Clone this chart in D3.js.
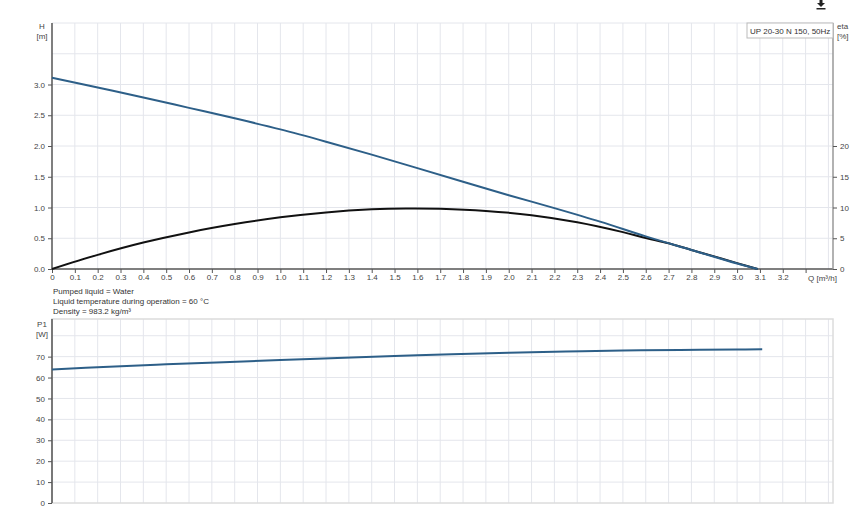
<!DOCTYPE html>
<html>
<head>
<meta charset="utf-8">
<script src="https://cdn.jsdelivr.net/npm/d3@7"></script>
<style>
  body { margin: 0; background: #fff; }
  svg { display: block; font-family: "Liberation Sans", Arial, sans-serif; }
</style>
</head>
<body>
<svg id="chart" width="855" height="528"></svg>
<script>
// Data
const qTicks = d3.range(0, 33).map(i => i / 10);
const hTicks = [0, 0.5, 1.0, 1.5, 2.0, 2.5, 3.0];
const etaTicks = [0, 5, 10, 15, 20];
const pTicks = [0, 10, 20, 30, 40, 50, 60, 70];

const qHead = [0, 0.2, 0.4, 0.6, 0.8, 1.0, 1.2, 1.4, 1.6, 1.8, 2.0, 2.2, 2.4, 2.6, 2.8, 3.0, 3.09];
const head = [3.11, 2.95, 2.79, 2.62, 2.45, 2.27, 2.07, 1.86, 1.64, 1.42, 1.20, 0.99, 0.77, 0.53, 0.31, 0.09, 0];

const qEta = [0, 0.2, 0.4, 0.6, 0.8, 1.0, 1.2, 1.4, 1.55, 1.7, 1.9, 2.1, 2.3, 2.5, 2.6, 2.7, 2.8, 2.9, 3.0, 3.09];
const eta = [0, 2.3, 4.3, 5.95, 7.3, 8.4, 9.2, 9.7, 9.85, 9.8, 9.45, 8.75, 7.6, 6.0, 5.05, 4.2, 3.1, 2.05, 0.95, 0];

const qPower = [0, 0.25, 0.5, 0.75, 1.0, 1.25, 1.5, 1.75, 2.0, 2.25, 2.5, 2.75, 3.0, 3.11];
const power = [63.8, 65.2, 66.3, 67.3, 68.4, 69.3, 70.3, 71.2, 71.9, 72.5, 72.9, 73.2, 73.4, 73.5];

const infoLines = [
  "Pumped liquid = Water",
  "Liquid temperature during operation = 60 °C",
  "Density = 983.2 kg/m³"
];
const legendText = "UP 20-30 N 150, 50Hz";

// Layout
const svg = d3.select("#chart");
const left = 52, right = 833;
const top1 = 23, bottom1 = 269;
const top2 = 319, bottom2 = 503;

const gridColor = "#e4e6ec";
const axisColor = "#555";
const textColor = "#444";
const blue = "#2d5f88";

// Scales
const x = d3.scaleLinear().domain([0, 3.42]).range([left, right]);
const yH = d3.scaleLinear().domain([0, 4]).range([bottom1, top1]);
const yEta = d3.scaleLinear().domain([0, 40]).range([bottom1, top1]);
const yP = d3.scaleLinear().domain([0, 88]).range([bottom2, top2]);

// Top chart grid
const g1 = svg.append("g");
g1.selectAll(".vg").data(qTicks.slice(1).concat([3.3, 3.4])).join("line")
  .attr("x1", d => x(d)).attr("x2", d => x(d))
  .attr("y1", top1).attr("y2", bottom1)
  .attr("stroke", gridColor).attr("stroke-width", 1);
g1.selectAll(".hg").data(d3.range(0.5, 4.01, 0.5)).join("line")
  .attr("x1", left).attr("x2", right)
  .attr("y1", d => yH(d)).attr("y2", d => yH(d))
  .attr("stroke", gridColor).attr("stroke-width", 1);

// Top chart axes
const xAxis = d3.axisBottom(x).tickValues(qTicks.concat([3.3]))
  .tickSize(4).tickFormat(d => d === 3.3 ? "" : (d === 0 ? "0" : d3.format(".1f")(d)));
const xa = svg.append("g").attr("transform", `translate(0,${bottom1})`).call(xAxis);
const hAxis = d3.axisLeft(yH).tickValues(hTicks).tickSize(4).tickFormat(d3.format(".1f"));
const ha = svg.append("g").attr("transform", `translate(${left},0)`).call(hAxis);
const etaAxis = d3.axisRight(yEta).tickValues(etaTicks).tickSize(4);
const ea = svg.append("g").attr("transform", `translate(${right},0)`).call(etaAxis);

// Bottom chart grid
const g2 = svg.append("g");
g2.selectAll(".vg").data(qTicks.slice(1).concat([3.3, 3.4])).join("line")
  .attr("x1", d => x(d)).attr("x2", d => x(d))
  .attr("y1", top2).attr("y2", bottom2)
  .attr("stroke", gridColor).attr("stroke-width", 1);
g2.selectAll(".hg").data(d3.range(10, 81, 10)).join("line")
  .attr("x1", left).attr("x2", right)
  .attr("y1", d => yP(d)).attr("y2", d => yP(d))
  .attr("stroke", gridColor).attr("stroke-width", 1);
g2.append("rect")
  .attr("x", left).attr("y", top2)
  .attr("width", right - left).attr("height", bottom2 - top2)
  .attr("fill", "none").attr("stroke", "#dcdcdc").attr("stroke-width", 1.5);

const pAxis = d3.axisLeft(yP).tickValues(pTicks).tickSize(4);
const pa = svg.append("g").attr("transform", `translate(${left},0)`).call(pAxis);

// Axis styling
[xa, ha, ea, pa].forEach(a => {
  a.selectAll(".domain").attr("stroke", axisColor).attr("stroke-width", 1.5);
  a.selectAll(".tick line").attr("stroke", axisColor);
  a.selectAll(".tick text").attr("fill", textColor).attr("font-size", 8)
    .attr("font-family", "Liberation Sans, Arial, sans-serif");
});
xa.selectAll(".tick text").attr("dy", "0.5em");
ea.select(".domain").attr("stroke", "#999").attr("d", `M0,${top1}V${bottom1}`);
ha.select(".domain").attr("d", `M0,${top1}V${bottom1}`);
pa.select(".domain").attr("d", `M0,${top2}V${bottom2}`);
xa.select(".domain").attr("d", `M${left},0H${right}`);

// Axis titles
const label = (tx, ty, t, anchor) => svg.append("text")
  .attr("x", tx).attr("y", ty).attr("text-anchor", anchor || "middle")
  .attr("font-size", 8).attr("fill", textColor).text(t);
label(42, 29, "H");
label(42, 39, "[m]");
label(837, 29, "eta", "start");
label(837, 39, "[%]", "start");
label(808, 281, "Q [m³/h]", "start");
label(42, 327, "P1");
label(42, 337, "[W]");

// Info lines
svg.selectAll(".info").data(infoLines).join("text")
  .attr("x", 53).attr("y", (d, i) => 294 + i * 10)
  .attr("font-size", 8).attr("fill", "#333").text(d => d);

// Legend box
svg.append("rect").attr("x", 747).attr("y", top1).attr("width", right - 747).attr("height", 15)
  .attr("fill", "#fff").attr("stroke", "#bbb").attr("stroke-width", 1);
svg.append("text").attr("x", 750).attr("y", 34).attr("font-size", 8).attr("fill", "#333").text(legendText);

// Curves
const lineH = d3.line().x(d => x(d[0])).y(d => yH(d[1])).curve(d3.curveCatmullRom);
const lineEta = d3.line().x(d => x(d[0])).y(d => yEta(d[1])).curve(d3.curveCatmullRom);
const lineP = d3.line().x(d => x(d[0])).y(d => yP(d[1])).curve(d3.curveCatmullRom);

svg.append("path").datum(d3.zip(qEta, eta)).attr("d", lineEta)
  .attr("fill", "none").attr("stroke", "#111").attr("stroke-width", 2);
svg.append("path").datum(d3.zip(qHead, head)).attr("d", lineH)
  .attr("fill", "none").attr("stroke", blue).attr("stroke-width", 2);
svg.append("path").datum(d3.zip(qPower, power)).attr("d", lineP)
  .attr("fill", "none").attr("stroke", blue).attr("stroke-width", 2);

// Download icon
const icon = svg.append("g").attr("transform", "translate(821,0)");
icon.append("path").attr("d", "M-1.5,0H1.5V3H4L0,7L-4,3H-1.5Z").attr("fill", "#222");
icon.append("rect").attr("x", -4.5).attr("y", 8).attr("width", 9).attr("height", 1.5).attr("fill", "#222");
</script>
</body>
</html>
